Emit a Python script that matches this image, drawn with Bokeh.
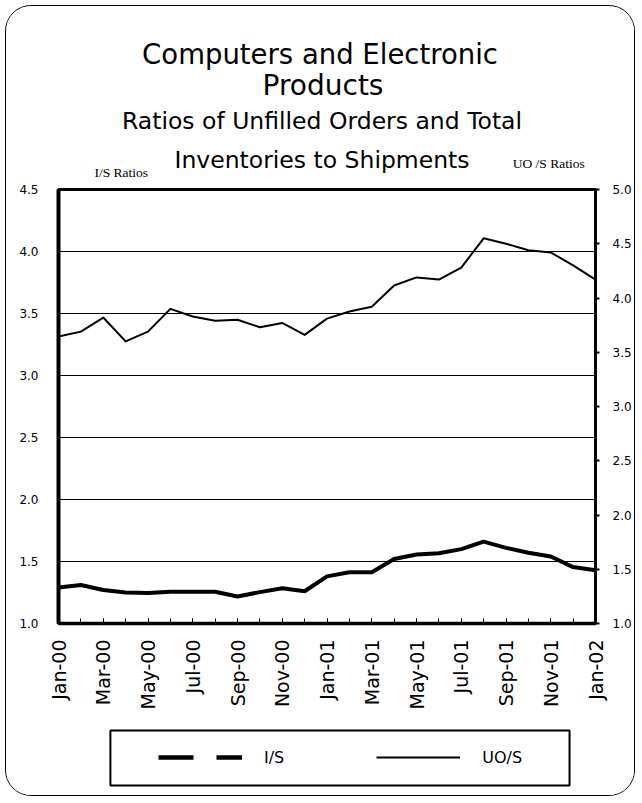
import numpy as np
from bokeh.plotting import figure
from bokeh.layouts import column
from bokeh.models import (Range1d, LinearAxis, FixedTicker, NumeralTickFormatter,
                          Legend, LegendItem, BoxAnnotation, ColumnDataSource)
from bokeh.core.properties import value
from bokeh.embed import file_html
from bokeh.resources import INLINE

# ---------------- data ----------------
months = ["Jan-00", "Feb-00", "Mar-00", "Apr-00", "May-00", "Jun-00", "Jul-00",
          "Aug-00", "Sep-00", "Oct-00", "Nov-00", "Dec-00",
          "Jan-01", "Feb-01", "Mar-01", "Apr-01", "May-01", "Jun-01", "Jul-01",
          "Aug-01", "Sep-01", "Oct-01", "Nov-01", "Dec-01", "Jan-02"]
is_ratio = [1.29, 1.31, 1.27, 1.25, 1.245, 1.256, 1.256, 1.256, 1.218, 1.253, 1.285, 1.26,
            1.38, 1.414, 1.414, 1.52, 1.556, 1.567, 1.60, 1.66, 1.61, 1.57, 1.54, 1.455, 1.43]
uo_ratio = [3.645, 3.69, 3.82, 3.60, 3.69, 3.90, 3.83, 3.79, 3.80, 3.73, 3.77, 3.66,
            3.81, 3.875, 3.92, 4.115, 4.19, 4.17, 4.28, 4.55, 4.50, 4.44, 4.42, 4.30, 4.17]
left_ticks = [1.0, 1.5, 2.0, 2.5, 3.0, 3.5, 4.0, 4.5]
right_ticks = [1.0, 1.5, 2.0, 2.5, 3.0, 3.5, 4.0, 4.5, 5.0]
series_labels = ["I/S", "UO/S"]
title_lines = ["Computers and Electronic", "Products"]
subtitle_lines = ["Ratios of Unfilled Orders and Total", "Inventories to Shipments"]
left_axis_title = "I/S Ratios"
right_axis_title = "UO /S Ratios"

# ---------------- layout (page pixels) ----------------
OFF = 6                      # column margin + border
W = 628                      # width of every figure
H_TOP, H_MAIN, H_LEG = 173, 538, 78
BT, BB = 10, 94              # main figure top / bottom border
BL, BR = 52, 38              # left / right border shared by all panels
SANS = "DejaVu Sans"
SERIF = "Liberation Serif"


def panel(height):
    f = figure(width=W, height=height, x_range=Range1d(BL, W - BR),
               y_range=Range1d(height, 0), output_backend="svg",
               toolbar_location=None, x_axis_type=None, y_axis_type=None,
               min_border_left=BL, min_border_right=BR,
               min_border_top=0, min_border_bottom=0)
    f.grid.visible = False
    f.outline_line_color = None
    f.background_fill_color = "white"
    f.border_fill_color = "white"
    return f


# ---------------- title panel ----------------
top = panel(H_TOP)
ttl = ColumnDataSource(dict(text=title_lines + subtitle_lines,
                            x=[320 - OFF, 323 - OFF, 322 - OFF, 322 - OFF],
                            y=[53 - OFF, 85 - OFF, 120 - OFF, 159 - OFF],
                            size=["27.5px", "28px", "23.5px", "23.5px"]))
top.text(x="x", y="y", text="text", source=ttl, text_align="center",
         text_baseline="alphabetic", text_font=value(SANS), text_font_size="size",
         text_color="black")
axt = ColumnDataSource(dict(text=[left_axis_title, right_axis_title],
                            x=[94 - OFF, 513 - OFF], y=[172 - OFF, 163 - OFF]))
top.text(x="x", y="y", text="text", source=axt, text_align="left",
         text_baseline="middle", text_font=value(SERIF), text_font_size="13.5px",
         text_color="black")

# ---------------- main chart ----------------
x = list(range(len(months)))
p = figure(width=W, height=H_MAIN, x_range=Range1d(x[0], x[-1]),
           y_range=Range1d(left_ticks[0], left_ticks[-1]),
           output_backend="svg", toolbar_location=None,
           min_border_left=BL, min_border_right=BR,
           min_border_top=BT, min_border_bottom=BB)
p.extra_y_ranges = {"uo": Range1d(right_ticks[0], right_ticks[-1])}
p.background_fill_color = "white"
p.border_fill_color = "white"
p.outline_line_color = "black"
p.outline_line_width = 3

p.xgrid.visible = False
p.ygrid.ticker = FixedTicker(ticks=left_ticks)
p.ygrid.grid_line_color = "black"
p.ygrid.grid_line_width = 1

xa = p.xaxis[0]
xa.ticker = FixedTicker(ticks=x[::2], minor_ticks=x)
xa.major_label_overrides = {i: months[i] for i in x[::2]}
xa.major_label_orientation = np.pi / 2
xa.major_label_text_font = SANS
xa.major_label_text_font_size = "19px"
xa.major_label_text_color = "black"
xa.major_label_standoff = 16
xa.major_tick_in = 5
xa.major_tick_out = 0
xa.minor_tick_in = 5
xa.minor_tick_out = 0
xa.major_tick_line_color = "black"
xa.minor_tick_line_color = "black"
xa.axis_line_width = 3.5
xa.axis_line_color = "black"

ya = p.yaxis[0]
ya.ticker = FixedTicker(ticks=left_ticks)
ya.formatter = NumeralTickFormatter(format="0.0")
ya.major_tick_in = 0
ya.major_tick_out = 0
ya.minor_tick_line_color = None
ya.major_label_standoff = 20
ya.major_label_text_font = SANS
ya.major_label_text_font_size = "12px"
ya.major_label_text_color = "black"
ya.axis_line_width = 4
ya.axis_line_color = "black"

ra = LinearAxis(y_range_name="uo", ticker=FixedTicker(ticks=right_ticks),
                formatter=NumeralTickFormatter(format="0.0"))
ra.major_tick_in = 0
ra.major_tick_out = 4
ra.major_tick_line_width = 2
ra.minor_tick_line_color = None
ra.major_label_standoff = 13
ra.major_label_text_font = SANS
ra.major_label_text_font_size = "12px"
ra.major_label_text_color = "black"
ra.axis_line_width = 2.5
ra.axis_line_color = "black"
p.add_layout(ra, "right")

p.line(x, is_ratio, line_color="black", line_width=4, line_join="round")
p.line(x, uo_ratio, y_range_name="uo", line_color="black", line_width=2,
       line_join="round")

# ---------------- legend panel ----------------
LEG_TOP = OFF + H_TOP + H_MAIN       # page y of the legend panel top
leg = panel(H_LEG)
nan = [float("nan")]
k1 = leg.line(x=nan, y=nan, line_color="black", line_width=4.5, line_dash="35 23")
k2 = leg.line(x=nan, y=nan, line_color="black", line_width=2)
PAD = 10
legend = Legend(items=[LegendItem(label=series_labels[0], renderers=[k1]),
                       LegendItem(label=series_labels[1], renderers=[k2])],
                orientation="horizontal",
                location=(158 - OFF - BL - PAD, H_LEG - (777 - LEG_TOP)),
                padding=PAD, margin=0, spacing=92, glyph_width=84, glyph_height=20,
                label_height=20, label_width=20, label_standoff=22,
                label_text_font=SANS, label_text_font_size="16px",
                label_text_color="black", border_line_alpha=0,
                background_fill_alpha=0)
leg.add_layout(legend, "center")
leg.add_layout(BoxAnnotation(left=110 - OFF, right=570 - OFF, top=730 - LEG_TOP,
                             bottom=785 - LEG_TOP, fill_alpha=0, line_color="black",
                             line_alpha=1, line_width=2))

layout = column(top, p, leg, spacing=0,
                styles={"margin": "5px", "border": "1px solid black",
                        "border-radius": "26px", "overflow": "hidden",
                        "background-color": "white"})

open("out.html", "w").write(file_html(layout, INLINE))
